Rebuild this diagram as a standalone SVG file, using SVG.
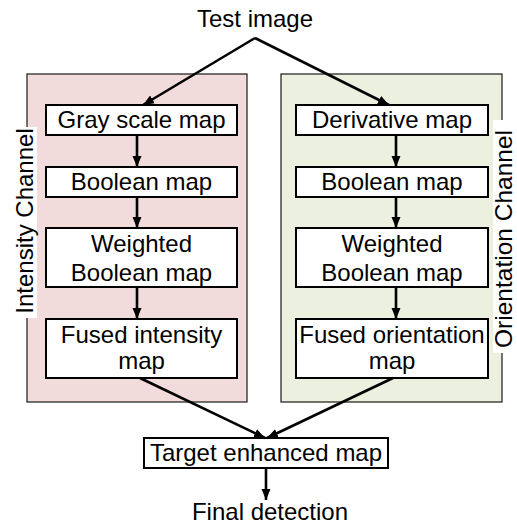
<svg xmlns="http://www.w3.org/2000/svg" width="517" height="527" viewBox="0 0 517 527">
<defs>
<marker id="ah" markerUnits="userSpaceOnUse" markerWidth="12" markerHeight="12" viewBox="0 0 12 12" refX="11" refY="6" orient="auto">
<path d="M0,1.5 L11,6 L0,10.5 Z" fill="#000"/>
</marker>
<style>
text{font-family:"Liberation Sans",Arial,sans-serif;font-size:24px;fill:#000;text-anchor:middle}
.box{fill:#fff;stroke:#000;stroke-width:2}
.panel{stroke:#1a1a1a;stroke-width:1.2}
.lbl{fill:#fff;stroke:none}
.c{fill:none;stroke:#000;stroke-width:2.6;marker-end:url(#ah)}
</style>
</defs>
<g id="intensity-channel">
<rect class="panel" x="27" y="74" width="220" height="328" fill="#f2dcdb"/>
<rect class="lbl" x="11" y="127" width="26" height="191"/>
<text transform="translate(33,221) rotate(-90)">Intensity Channel</text>
</g>
<g id="orientation-channel">
<rect class="panel" x="281" y="74" width="221" height="328" fill="#ebf1de"/>
<rect class="lbl" x="493" y="120" width="24" height="233"/>
<text transform="translate(512,239) rotate(-90)" style="font-size:24.5px">Orientation Channel</text>
</g>
<g id="test-image"><text x="255" y="27">Test image</text></g>
<g id="gray-scale-map"><rect class="box" x="46" y="105" width="191" height="30"/><text x="141.5" y="128">Gray scale map</text></g>
<g id="boolean-map-1"><rect class="box" x="46" y="167" width="191" height="30"/><text x="141.5" y="190">Boolean map</text></g>
<g id="weighted-boolean-map-1"><rect class="box" x="46" y="228" width="191" height="59"/><text x="141.5" y="252">Weighted</text><text x="141.5" y="281">Boolean map</text></g>
<g id="fused-intensity-map"><rect class="box" x="46" y="319" width="191" height="59"/><text x="141.5" y="343">Fused intensity</text><text x="141.5" y="369">map</text></g>
<g id="derivative-map"><rect class="box" x="296" y="105" width="192" height="30"/><text x="392" y="128">Derivative map</text></g>
<g id="boolean-map-2"><rect class="box" x="296" y="167" width="192" height="30"/><text x="392" y="190">Boolean map</text></g>
<g id="weighted-boolean-map-2"><rect class="box" x="296" y="228" width="192" height="59"/><text x="392" y="252">Weighted</text><text x="392" y="281">Boolean map</text></g>
<g id="fused-orientation-map"><rect class="box" x="296" y="319" width="192" height="59"/><text x="392" y="343">Fused orientation</text><text x="392" y="369">map</text></g>
<g id="target-enhanced-map"><rect class="box" x="144" y="438" width="244" height="30"/><text x="266" y="461">Target enhanced map</text></g>
<g id="final-detection"><text x="270" y="520">Final detection</text></g>
<g id="connectors">
<path class="c" d="M255,38 L143,105"/>
<path class="c" d="M255,38 L389,105"/>
<path class="c" d="M137,135 V167"/>
<path class="c" d="M137,197 V228"/>
<path class="c" d="M137,287 V319"/>
<path class="c" d="M396,135 V167"/>
<path class="c" d="M396,197 V228"/>
<path class="c" d="M396,287 V319"/>
<path class="c" d="M140,378 L265,438"/>
<path class="c" d="M393,378 L267,438"/>
<path class="c" d="M266,468 V500"/>
</g>
</svg>
